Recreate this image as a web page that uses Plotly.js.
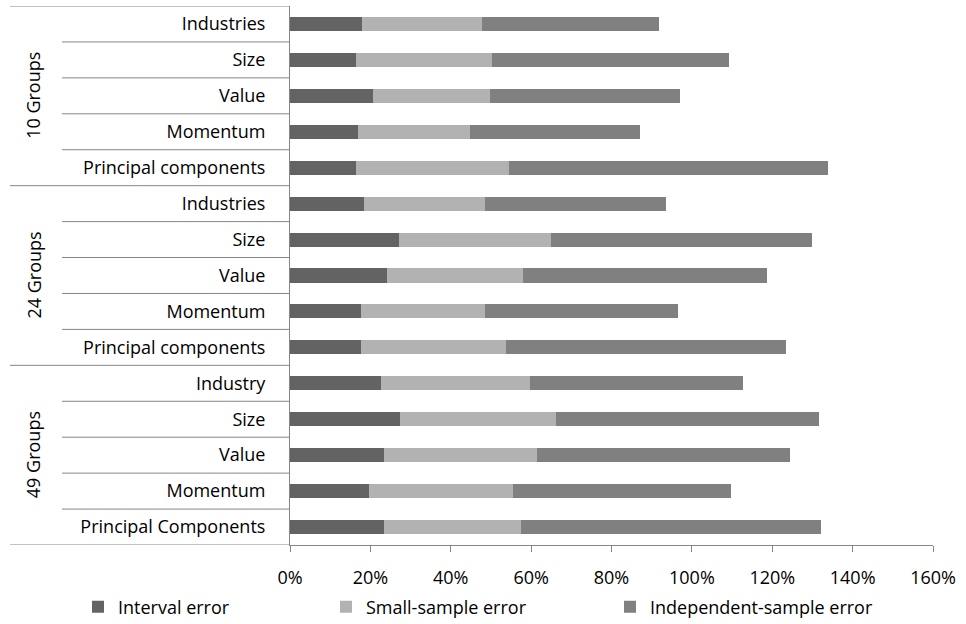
<!DOCTYPE html>
<html>
<head>
<meta charset="utf-8">
<script src="https://cdn.plot.ly/plotly-3.0.1.min.js"></script>
<style>
  html, body { margin: 0; padding: 0; background: #fff; }
  #chart { width: 966px; height: 624px; }
</style>
</head>
<body>
<div id="chart"></div>
<script>
// Category labels, top to bottom
const categories = [
  "Industries", "Size", "Value", "Momentum", "Principal components",
  "Industries", "Size", "Value", "Momentum", "Principal components",
  "Industry", "Size", "Value", "Momentum", "Principal Components"
];
// Outer grouping: name and how many categories each covers
const groupNames = ["10 Groups", "24 Groups", "49 Groups"];
const groupSizes = [5, 5, 5];

// Error components, in percent
const intervalError = [17.9, 16.4, 20.6, 16.8, 16.4, 18.4, 27.0, 24.1, 17.6, 17.6, 22.7, 27.4, 23.5, 19.6, 23.5];
const smallSampleError = [29.8, 33.9, 29.2, 28.0, 38.2, 30.2, 37.9, 33.9, 31.0, 36.1, 36.9, 38.7, 37.9, 35.8, 34.0];
const independentSampleError = [44.0, 59.0, 47.2, 42.2, 79.2, 44.9, 65.0, 60.8, 47.9, 69.8, 53.2, 65.6, 63.0, 54.4, 74.6];

const seriesNames = ["Interval error", "Small-sample error", "Independent-sample error"];
const seriesColors = ["#636363", "#b2b2b2", "#808080"];

const xTicks = [0, 20, 40, 60, 80, 100, 120, 140, 160];

const idx = categories.map((_, i) => i);
const FONT = "Open Sans, Liberation Sans, sans-serif";
const FS = 18;
const AXIS = "#868686";

// plot-area geometry (pixels) used to place things in the left margin
const M = { l: 290, r: 33, t: 6, b: 79, autoexpand: false };
const plotW = 966 - M.l - M.r;
const plotH = 624 - M.t - M.b;
const px2paperX = px => (px - M.l) / plotW;
const px2paperY = py => (624 - M.b - py) / plotH;

const seriesData = [intervalError, smallSampleError, independentSampleError];
const legendIds = ["legend", "legend2", "legend3"];
const traces = seriesData.map((vals, k) => ({
  type: "bar",
  orientation: "h",
  name: seriesNames[k],
  x: vals,
  y: idx,
  marker: { color: seriesColors[k], line: { width: 0 } },
  legend: legendIds[k],
  hoverinfo: "name+x"
}));

// divider lines in the category area of the left margin
const shapes = [];
let start = 0;
groupSizes.forEach((n, g) => {
  for (let j = 1; j < n; j++) {
    shapes.push({
      type: "line", xref: "paper", yref: "y",
      x0: px2paperX(62), x1: 0, y0: start + j - 0.5, y1: start + j - 0.5,
      line: { color: AXIS, width: 1 }
    });
  }
  start += n;
});
// group boundaries (top, between groups, bottom)
let b = 0;
[0].concat(groupSizes).forEach(n => {
  b += n;
  shapes.push({
    type: "line", xref: "paper", yref: "y",
    x0: px2paperX(10), x1: 0, y0: b - 0.5, y1: b - 0.5,
    line: { color: AXIS, width: 1 }
  });
});

// rotated group labels
const annotations = [];
let s = 0;
groupNames.forEach((name, g) => {
  annotations.push({
    xref: "paper", yref: "y",
    x: px2paperX(33), y: s + (groupSizes[g] - 1) / 2,
    text: name, textangle: -90, showarrow: false,
    font: { family: FONT, size: FS, color: "#000" },
    xanchor: "center", yanchor: "middle"
  });
  s += groupSizes[g];
});

const legendBase = {
  orientation: "h", yanchor: "middle", xanchor: "left",
  y: px2paperY(607), bgcolor: "rgba(0,0,0,0)",
  font: { family: FONT, size: FS, color: "#000" },
  itemclick: false, itemdoubleclick: false
};

const layout = {
  width: 966, height: 624,
  margin: M,
  paper_bgcolor: "#fff", plot_bgcolor: "#fff",
  barmode: "stack",
  bargap: 0.61,
  showlegend: true,
  font: { family: FONT, size: FS, color: "#000" },
  xaxis: {
    range: [0, 160],
    tickvals: xTicks,
    ticktext: xTicks.map(v => v + "%"),
    showgrid: false, zeroline: false,
    showline: true, linecolor: AXIS, linewidth: 1,
    ticks: "outside", ticklen: 6, tickcolor: AXIS,
    ticklabelstandoff: 10,
    tickfont: { family: FONT, size: FS, color: "#000" },
    automargin: false,
    fixedrange: true
  },
  yaxis: {
    range: [categories.length - 0.5, -0.5],
    tickvals: idx,
    ticktext: categories,
    showgrid: false, zeroline: false,
    showline: true, linecolor: AXIS, linewidth: 1,
    ticks: "", ticklabelstandoff: 20,
    tickfont: { family: FONT, size: FS, color: "#000" },
    automargin: false,
    fixedrange: true
  },
  legend: Object.assign({}, legendBase, { x: px2paperX(78) }),
  legend2: Object.assign({}, legendBase, { x: px2paperX(326) }),
  legend3: Object.assign({}, legendBase, { x: px2paperX(610) }),
  shapes: shapes,
  annotations: annotations
};

Plotly.newPlot("chart", traces, layout, { displayModeBar: false, staticPlot: true });
</script>
</body>
</html>
